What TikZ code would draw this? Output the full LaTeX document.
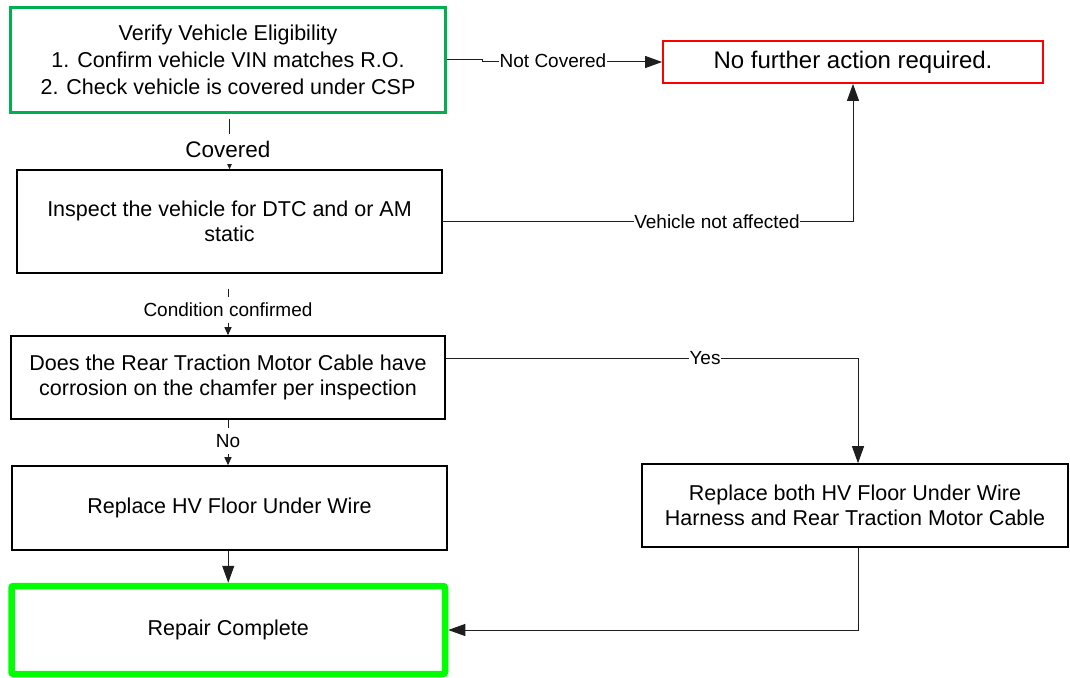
\documentclass[tikz,border=0pt]{standalone}
\usepackage{fontspec}
\setmainfont{Liberation Sans}
\usetikzlibrary{arrows.meta}
\definecolor{vgreen}{RGB}{0,176,80}
\definecolor{vlime}{RGB}{0,255,0}
\definecolor{vred}{RGB}{255,0,0}
\definecolor{vline}{RGB}{30,30,30}
\begin{document}
\begin{tikzpicture}[x=1pt,y=-1pt,
  box/.style={draw=black, line width=1.6pt, rectangle, align=center, inner sep=0pt,
    font=\fontsize{21.5}{25}\selectfont},
  conn/.style={draw=vline, line width=1pt},
  bigtip/.style={-{Triangle[length=17pt,width=12pt]}},
  smalltip/.style={-{Triangle[length=8pt,width=7pt]}},
  lbl/.style={fill=white, inner xsep=0.5pt, inner ysep=1pt, font=\fontsize{19}{22}\selectfont}]

\fill[white] (0,0) rectangle (1070,677);
\useasboundingbox (0,0) rectangle (1070,677);

% boxes
\node[box, draw=vgreen, line width=2.2pt, minimum width=435pt, minimum height=105pt,
  font=\fontsize{21.5}{27}\selectfont] (verify) at (228,60)
  {Verify Vehicle Eligibility\\1. Confirm vehicle VIN matches R.O.\\2. Check vehicle is covered under CSP};
\node[box, draw=vred, line width=1.8pt, minimum width=380pt, minimum height=42pt,
  font=\fontsize{24}{28}\selectfont] (nf) at (853,62) {No further action required.};
\node[box, minimum width=425pt, minimum height=103pt] (inspect) at (229.5,221.5)
  {Inspect the vehicle for DTC and or AM\\static};
\node[box, minimum width=434pt, minimum height=83pt] (corr) at (228,377.5)
  {Does the Rear Traction Motor Cable have\\corrosion on the chamfer per inspection};
\node[box, minimum width=435pt, minimum height=84pt] (repl) at (229.5,508)
  {Replace HV Floor Under Wire};
\node[box, minimum width=426pt, minimum height=83pt] (both) at (855,505.5)
  {Replace both HV Floor Under Wire\\Harness and Rear Traction Motor Cable};
\node[box, draw=vlime, line width=6.5pt, rounded corners=2pt, minimum width=433.5pt,
  minimum height=88pt] (repair) at (228.25,630) {Repair Complete};

% connectors
\draw[conn,smalltip,shorten <=5pt] (inspect.north |- verify.south) -- (inspect.north);
\draw[conn,smalltip,shorten <=15pt] (corr.north |- inspect.south) -- (corr.north);
\draw[conn,smalltip] (corr.south) -- (corr.south |- repl.north);
\draw[conn,bigtip] (repair.north |- repl.south) -- (repair.north);
\draw[conn,bigtip] (verify.east) -- ++(36,0) |- (nf.west);
\draw[conn,bigtip] (inspect.east) -| (nf.south);
\draw[conn,bigtip] ([yshift=19.5pt]corr.east) -| ([xshift=3pt]both.north);
\draw[conn,bigtip] ([xshift=3pt]both.south) |- (repair.east);

% labels
\node[lbl, inner ysep=7pt, font=\fontsize{22.5}{26}\selectfont] (lcov) at (228,149) {Covered};
\node[lbl, inner ysep=6pt] (lcond) at (228,310) {Condition confirmed};
\node[lbl, inner ysep=6pt] (lno) at (228,441) {No};
\node[lbl] (lnot) at (553,61) {Not Covered};
\node[lbl] (lvna) at (717,222) {Vehicle not affected};
\node[lbl] (lyes) at (705,358) {Yes};
\end{tikzpicture}
\end{document}
